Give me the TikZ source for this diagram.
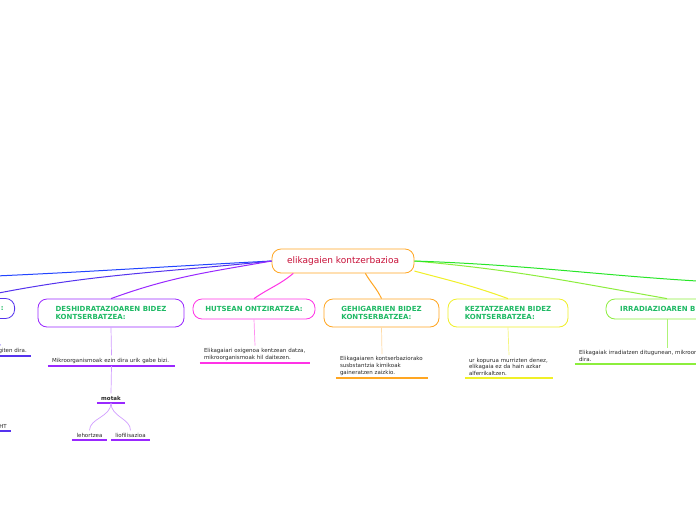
\documentclass[tikz,border=0pt]{standalone}
\usepackage{fontspec}
\setmainfont{DejaVu Sans}
\definecolor{cred}{RGB}{200,16,56}
\definecolor{kgreen}{RGB}{30,185,100}
\definecolor{ktext}{RGB}{40,40,40}
\definecolor{cblue}{RGB}{34,68,255}
\definecolor{cindigo}{RGB}{85,51,238}
\definecolor{cpurple}{RGB}{153,40,255}
\definecolor{cmagenta}{RGB}{255,51,230}
\definecolor{corange}{RGB}{255,166,34}
\definecolor{cyellow}{RGB}{240,240,40}
\definecolor{clime}{RGB}{140,238,60}
\definecolor{cgreen}{RGB}{40,230,40}
\begin{document}
\begin{tikzpicture}[x=1pt,y=-1pt,
  root/.style={draw=corange, line width=0.8pt, rounded corners=9pt, text=cred,
    font=\fontsize{9}{10}\selectfont, minimum width=142pt, minimum height=24pt},
  cat/.style={draw, line width=0.8pt, rounded corners=9pt, text=kgreen,
    font=\bfseries\fontsize{7}{8}\selectfont, align=left, minimum height=20pt},
  leaf/.style={text=ktext, font=\fontsize{5.5}{6.6}\selectfont, align=left,
    inner xsep=4pt, inner ysep=2.5pt},
  ul/.style={line width=1.4pt},
  link/.style={line width=1pt},
  sub/.style={line width=0.7pt}]
  \useasboundingbox (0,0) rectangle (696,520);
  \fill[white] (0,0) rectangle (696,520);
  \clip (0,0) rectangle (696,520);
  % root
  \node[root] (root) at (343,261) {elikagaien kontzerbazioa};
  \coordinate (farleft) at (-80,279);
  \coordinate (farright) at (760,284);
  % categories
  \node[cat, draw=cindigo, anchor=east, text width=60pt, align=right, inner xsep=11pt] (conf) at (15,308.5) {:};
  \node[cat, draw=cpurple, minimum width=146pt, minimum height=28pt] (desh) at (111,313) {DESHIDRATAZIOAREN BIDEZ\\KONTSERBATZEA:};
  \node[cat, draw=cmagenta, minimum width=122pt] (huts) at (254,309) {HUTSEAN ONTZIRATZEA:};
  \node[cat, draw=corange, minimum width=115pt, minimum height=28pt] (gehi) at (381.5,313) {GEHIGARRIEN BIDEZ\\KONTSERBATZEA:};
  \node[cat, draw=cyellow, minimum width=120pt, minimum height=28pt] (kezt) at (508,313) {KEZTATZEAREN BIDEZ\\KONTSERBATZEA:};
  \node[cat, draw=clime, minimum width=122pt] (irra) at (667,309) {IRRADIAZIOAREN BIDEZ};
  % leaves
  \node[leaf, text width=52pt, align=right, anchor=south east] (lefta) at (31,356) {giten dira.};
  \node[leaf, text width=30pt, align=right, anchor=south east] (leftb) at (11,431) {HT};
  \node[leaf, text width=119pt, anchor=south] (mikro) at (111.5,366) {Mikroorganismoak ezin dira urik gabe bizi.};
  \node[leaf, text width=20pt, align=center, anchor=south, font=\bfseries\fontsize{5.5}{6.6}\selectfont] (motak) at (111,403) {motak};
  \node[leaf, text width=27pt, align=center, anchor=south] (leh) at (89.5,440) {lehortzea};
  \node[leaf, text width=31pt, align=center, anchor=south] (lio) at (130.5,440) {liofilisazioa};
  \node[leaf, text width=102pt, anchor=south] (hleaf) at (255,363) {Elikagaiari oxigenoa kentzean datza,\\mikroorganismoak hil daitezen.};
  \node[leaf, text width=84pt, anchor=south] (gleaf) at (382,378) {Elikagaiaren kontserbaziorako\\susbstantzia kimikoak\\gaineratzen zaizkio.};
  \node[leaf, text width=80pt, anchor=south] (kleaf) at (509,378) {ur kopurua murrizten denez,\\elikagaia ez da hain azkar\\alferrikaltzen.};
  \node[leaf, text width=176pt, anchor=south] (ileaf) at (667,364) {Elikagaiak irradiatzen ditugunean, mikroorganismoak\\dira.};
  % underlines
  \foreach \n/\c in {lefta/cindigo, leftb/cindigo, mikro/cpurple, motak/cpurple, leh/cpurple, lio/cpurple,
      hleaf/cmagenta, gleaf/corange, kleaf/cyellow, ileaf/clime}
    \draw[ul, \c] (\n.south west) -- (\n.south east);
  % root connectors
  \draw[link, cblue] (root.west) to[out=183,in=2] (farleft);
  \draw[link, cindigo] (root.west) to[out=186,in=12] (conf.north);
  \draw[link, cpurple] (root.west) to[out=190,in=20] (desh.north);
  \draw[link, cmagenta] (root.194) to[out=220,in=35] (huts.north);
  \draw[link, corange] (root.-29) to[out=-60,in=115] (gehi.north);
  \draw[link, cyellow] (root.-8) to[out=-15,in=160] (kezt.north);
  \draw[link, clime] (root.east) to[out=-5,in=170] (irra.north);
  \draw[link, cgreen] (root.east) to[out=-2,in=178] (farright);
  % sub connectors
  \draw[sub, cindigo!60] (conf.south) -- (lefta.north);
  \draw[sub, cpurple!45] (desh.south) -- (mikro.north);
  \draw[sub, cpurple!45] (mikro.south) -- (motak.north);
  \draw[sub, cpurple!45] (motak.south) .. controls +(0,14) and +(0,-12) .. (leh.north);
  \draw[sub, cpurple!45] (motak.south) .. controls +(0,14) and +(0,-12) .. (lio.north);
  \draw[sub, cmagenta!55] (huts.south) -- (hleaf.north);
  \draw[sub, corange!40] (gehi.south) -- (gleaf.north);
  \draw[sub, cyellow!60] (kezt.south) -- (kleaf.north);
  \draw[sub, clime!70] (irra.south) -- (ileaf.north);
\end{tikzpicture}
\end{document}
